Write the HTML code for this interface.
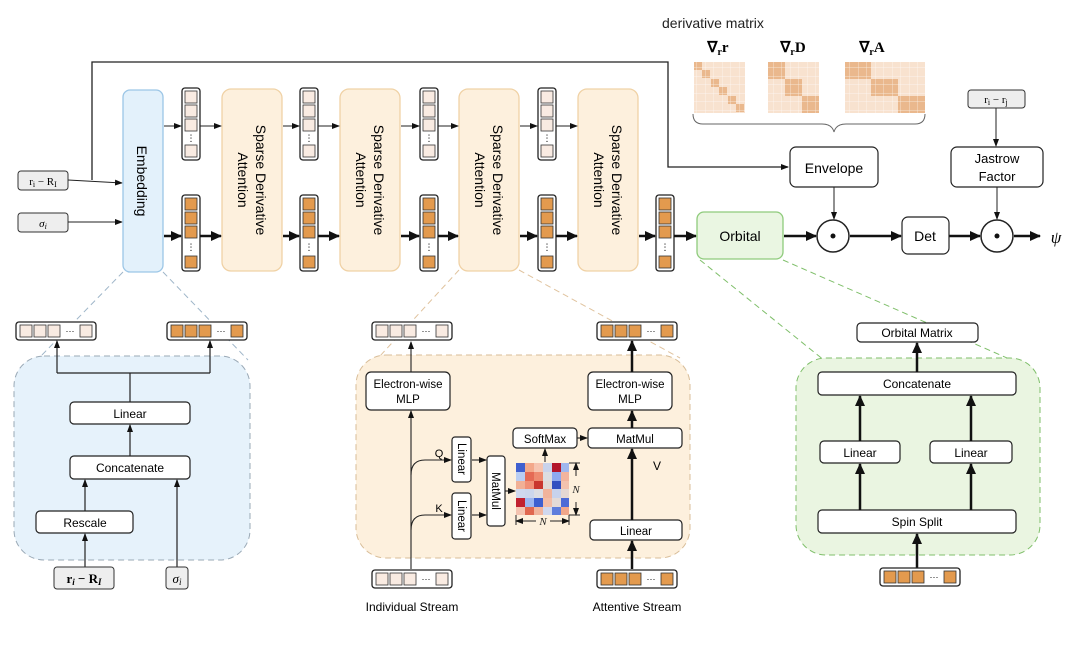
<!DOCTYPE html>
<html><head><meta charset="utf-8"><style>
html,body{margin:0;padding:0;background:#fff;}
svg{display:block;font-family:"Liberation Sans","DejaVu Sans",sans-serif;}
</style></head><body>
<svg width="1080" height="650" viewBox="0 0 1080 650" xmlns="http://www.w3.org/2000/svg">
<defs>
<marker id="a" markerWidth="8" markerHeight="8" refX="7" refY="4" orient="auto" markerUnits="userSpaceOnUse"><path d="M0,1 L8,4 L0,7 z" fill="#111"/></marker>
<marker id="A" markerWidth="12" markerHeight="12" refX="10" refY="6" orient="auto" markerUnits="userSpaceOnUse"><path d="M0,1 L11,6 L0,11 z" fill="#111"/></marker>
<pattern id="g" width="8.5" height="8.5" patternUnits="userSpaceOnUse"><path d="M8.5,0 L8.5,8.5 L0,8.5" fill="none" stroke="#fff" stroke-width="0.7" opacity="0.8"/></pattern>
</defs>

<!-- derivative matrices -->
<text x="662" y="28" font-size="14" fill="#222">derivative matrix</text>
<text x="718" y="52" font-size="15" font-family="Liberation Serif" font-weight="bold" text-anchor="middle">∇<tspan font-size="10" dy="3">r</tspan><tspan dy="-3">r</tspan></text>
<text x="793" y="52" font-size="15" font-family="Liberation Serif" font-weight="bold" text-anchor="middle">∇<tspan font-size="10" dy="3">r</tspan><tspan dy="-3">D</tspan></text>
<text x="872" y="52" font-size="15" font-family="Liberation Serif" font-weight="bold" text-anchor="middle">∇<tspan font-size="10" dy="3">r</tspan><tspan dy="-3">A</tspan></text>
<rect x="694" y="62" width="51" height="51" fill="#f8e2cf"/>
<g fill="#eab88d"><rect x="694" y="62" width="8" height="8"/><rect x="702" y="70" width="8" height="8"/><rect x="711" y="79" width="8" height="8"/><rect x="719" y="87" width="8" height="8"/><rect x="728" y="96" width="8" height="8"/><rect x="736" y="104" width="8" height="8"/></g>
<rect x="694" y="62" width="51" height="51" fill="url(#g)"/>
<rect x="768" y="62" width="51" height="51" fill="#f8e2cf"/>
<g fill="#eab88d"><rect x="768" y="62" width="17" height="17"/><rect x="785" y="79" width="17" height="17"/><rect x="802" y="96" width="17" height="17"/></g>
<rect x="768" y="62" width="51" height="51" fill="url(#g)"/>
<rect x="845" y="62" width="80" height="51" fill="#f8e2cf"/>
<g fill="#eab88d"><rect x="845" y="62" width="26" height="17"/><rect x="871" y="79" width="27" height="17"/><rect x="898" y="96" width="27" height="17"/></g>
<rect x="845" y="62" width="80" height="51" fill="url(#g)"/>
<path d="M693,114 q0,10 10,10 L822,124 q10,0 12,8 q2,-8 12,-8 L915,124 q10,0 10,-10" fill="none" stroke="#666" stroke-width="1"/>

<!-- skip line -->
<path d="M92,180 L92,62 L668,62 L668,167 L788,167" fill="none" stroke="#222" stroke-width="1.3" marker-end="url(#a)"/>

<!-- inputs -->
<rect x="18" y="171" width="50" height="19" rx="3" fill="#eee" stroke="#333"/>
<text x="43" y="185" font-size="11" font-family="Liberation Serif" text-anchor="middle">r<tspan font-size="8" dy="2">i</tspan><tspan dy="-2"> − R</tspan><tspan font-size="8" dy="2">I</tspan></text>
<rect x="18" y="213" width="50" height="19" rx="3" fill="#eee" stroke="#333"/>
<text x="43" y="227" font-size="11" font-family="Liberation Serif" font-style="italic" text-anchor="middle">σ<tspan font-size="8" dy="2">i</tspan></text>
<line x1="68" y1="180" x2="122" y2="183" stroke="#222" marker-end="url(#a)"/>
<line x1="68" y1="222" x2="122" y2="222" stroke="#222" marker-end="url(#a)"/>

<!-- Embedding -->
<rect x="123" y="90" width="40" height="182" rx="7" fill="#e3f1fb" stroke="#9cc6e6" stroke-width="1.3"/>
<text transform="translate(137,181) rotate(90)" font-size="14" text-anchor="middle">Embedding</text>

<!-- SDA boxes -->
<g fill="#fdf0dd" stroke="#f0d2a6" stroke-width="1.3">
<rect x="222" y="89" width="60" height="182" rx="9"/>
<rect x="340" y="89" width="60" height="182" rx="9"/>
<rect x="459" y="89" width="60" height="182" rx="9"/>
<rect x="578" y="89" width="60" height="182" rx="9"/>
</g>
<g font-size="14" text-anchor="middle">
<text transform="translate(252,180) rotate(90)"><tspan x="0" dy="-4">Sparse Derivative</tspan><tspan x="0" dy="18">Attention</tspan></text>
<text transform="translate(370,180) rotate(90)"><tspan x="0" dy="-4">Sparse Derivative</tspan><tspan x="0" dy="18">Attention</tspan></text>
<text transform="translate(489,180) rotate(90)"><tspan x="0" dy="-4">Sparse Derivative</tspan><tspan x="0" dy="18">Attention</tspan></text>
<text transform="translate(608,180) rotate(90)"><tspan x="0" dy="-4">Sparse Derivative</tspan><tspan x="0" dy="18">Attention</tspan></text>
</g>

<!-- vertical vectors -->
<g id="vl">
<rect x="182" y="88" width="18" height="72" rx="3" fill="#fff" stroke="#222" stroke-width="1.3"/>
<g fill="#f9ebe2" stroke="#333" stroke-width="0.8"><rect x="185" y="91" width="12" height="12"/><rect x="185" y="105" width="12" height="12"/><rect x="185" y="119" width="12" height="12"/><rect x="185" y="145" width="12" height="12"/></g>
<text x="191" y="141" font-size="9" text-anchor="middle">⋮</text>
</g>
<use href="#vl" x="118"/><use href="#vl" x="238"/><use href="#vl" x="356"/>
<g id="vo">
<rect x="182" y="195" width="18" height="76" rx="3" fill="#fff" stroke="#222" stroke-width="1.3"/>
<g fill="#e39a4e" stroke="#333" stroke-width="0.8"><rect x="185" y="198" width="12" height="12"/><rect x="185" y="212" width="12" height="12"/><rect x="185" y="226" width="12" height="12"/><rect x="185" y="256" width="12" height="12"/></g>
<text x="191" y="250" font-size="9" text-anchor="middle">⋮</text>
</g>
<use href="#vo" x="118"/><use href="#vo" x="238"/><use href="#vo" x="356"/><use href="#vo" x="474"/>

<!-- top arrows -->
<g stroke="#222" marker-end="url(#a)">
<line x1="164" y1="126" x2="181" y2="126"/><line x1="200" y1="126" x2="221" y2="126"/>
<line x1="283" y1="126" x2="299" y2="126"/><line x1="318" y1="126" x2="339" y2="126"/>
<line x1="401" y1="126" x2="419" y2="126"/><line x1="438" y1="126" x2="458" y2="126"/>
<line x1="520" y1="126" x2="537" y2="126"/><line x1="556" y1="126" x2="577" y2="126"/>
</g>
<!-- bottom thick arrows -->
<g stroke="#111" stroke-width="2.5" marker-end="url(#A)">
<line x1="164" y1="236" x2="181" y2="236"/><line x1="200" y1="236" x2="221" y2="236"/>
<line x1="283" y1="236" x2="299" y2="236"/><line x1="318" y1="236" x2="339" y2="236"/>
<line x1="401" y1="236" x2="419" y2="236"/><line x1="438" y1="236" x2="458" y2="236"/>
<line x1="520" y1="236" x2="537" y2="236"/><line x1="556" y1="236" x2="577" y2="236"/>
<line x1="639" y1="236" x2="655" y2="236"/><line x1="674" y1="236" x2="696" y2="236"/>
<line x1="784" y1="236" x2="816" y2="236"/><line x1="850" y1="236" x2="901" y2="236"/>
<line x1="949" y1="236" x2="980" y2="236"/><line x1="1014" y1="236" x2="1040" y2="236"/>
</g>

<!-- right pipeline -->
<rect x="697" y="212" width="86" height="47" rx="7" fill="#eaf6e2" stroke="#8fcb7c" stroke-width="1.3"/>
<text x="740" y="241" font-size="14" text-anchor="middle">Orbital</text>
<rect x="790" y="147" width="88" height="40" rx="6" fill="#fff" stroke="#222" stroke-width="1.2"/>
<text x="834" y="173" font-size="14" text-anchor="middle">Envelope</text>
<rect x="968" y="90" width="57" height="18" rx="3" fill="#eee" stroke="#333"/>
<text x="996" y="103" font-size="11" font-family="Liberation Serif" text-anchor="middle">r<tspan font-size="8" dy="2">i</tspan><tspan dy="-2"> − r</tspan><tspan font-size="8" dy="2">j</tspan></text>
<line x1="996" y1="108" x2="996" y2="146" stroke="#222" marker-end="url(#a)"/>
<rect x="951" y="147" width="92" height="40" rx="6" fill="#fff" stroke="#222" stroke-width="1.2"/>
<text x="997" y="163" font-size="13" text-anchor="middle">Jastrow</text>
<text x="997" y="181" font-size="13" text-anchor="middle">Factor</text>
<line x1="834" y1="187" x2="834" y2="219" stroke="#222" marker-end="url(#a)"/>
<line x1="997" y1="187" x2="997" y2="219" stroke="#222" marker-end="url(#a)"/>
<circle cx="833" cy="236" r="16" fill="#fff" stroke="#222" stroke-width="1.5"/><circle cx="833" cy="236" r="2.5" fill="#111"/>
<circle cx="997" cy="236" r="16" fill="#fff" stroke="#222" stroke-width="1.5"/><circle cx="997" cy="236" r="2.5" fill="#111"/>
<rect x="902" y="217" width="47" height="37" rx="6" fill="#fff" stroke="#222" stroke-width="1.2"/>
<text x="925" y="241" font-size="14" text-anchor="middle">Det</text>
<text x="1056" y="243" font-size="17" font-family="Liberation Serif" font-style="italic" text-anchor="middle">ψ</text>

<!-- zoom dashed connectors -->
<g fill="none" stroke-dasharray="6,4" stroke-width="1">
<line x1="123" y1="272" x2="40" y2="357" stroke="#9fb6c9"/><line x1="163" y1="272" x2="248" y2="360" stroke="#9fb6c9"/>
<line x1="459" y1="270" x2="380" y2="356" stroke="#e0c39e"/><line x1="519" y1="270" x2="680" y2="358" stroke="#e0c39e"/>
<line x1="700" y1="260" x2="830" y2="365" stroke="#7fbf6a"/><line x1="783" y1="260" x2="1030" y2="368" stroke="#7fbf6a"/>
</g>

<!-- bottom-left embedding detail -->
<rect x="14" y="356" width="236" height="204" rx="30" fill="#e6f2fb" stroke="#9aa9b6" stroke-dasharray="6,4"/>
<g id="hl">
<rect x="16" y="322" width="80" height="18" rx="3" fill="#fff" stroke="#222" stroke-width="1.3"/>
<g fill="#f9ebe2" stroke="#333" stroke-width="0.8"><rect x="20" y="325" width="12" height="12"/><rect x="34" y="325" width="12" height="12"/><rect x="48" y="325" width="12" height="12"/><rect x="80" y="325" width="12" height="12"/></g>
<text x="70" y="334" font-size="9" text-anchor="middle">···</text>
</g>
<g id="ho">
<rect x="167" y="322" width="80" height="18" rx="3" fill="#fff" stroke="#222" stroke-width="1.3"/>
<g fill="#e39a4e" stroke="#333" stroke-width="0.8"><rect x="171" y="325" width="12" height="12"/><rect x="185" y="325" width="12" height="12"/><rect x="199" y="325" width="12" height="12"/><rect x="231" y="325" width="12" height="12"/></g>
<text x="221" y="334" font-size="9" text-anchor="middle">···</text>
</g>
<path d="M130,402 L130,373 M57,373 L210,373" stroke="#222" fill="none" stroke-width="1.2"/>
<line x1="57" y1="373" x2="57" y2="341" stroke="#222" stroke-width="1.2" marker-end="url(#a)"/>
<line x1="210" y1="373" x2="210" y2="341" stroke="#222" stroke-width="1.2" marker-end="url(#a)"/>
<g fill="#fff" stroke="#222" stroke-width="1.2">
<rect x="70" y="402" width="120" height="22" rx="4"/><rect x="70" y="456" width="120" height="23" rx="4"/><rect x="36" y="511" width="97" height="22" rx="4"/>
</g>
<g font-size="12" text-anchor="middle"><text x="130" y="418">Linear</text><text x="130" y="472">Concatenate</text><text x="85" y="527">Rescale</text></g>
<g stroke="#222" stroke-width="1.2" marker-end="url(#a)">
<line x1="130" y1="456" x2="130" y2="425"/><line x1="85" y1="511" x2="85" y2="480"/><line x1="177" y1="567" x2="177" y2="480"/><line x1="85" y1="567" x2="85" y2="534"/>
</g>
<rect x="54" y="567" width="60" height="22" rx="3" fill="#eee" stroke="#333"/>
<text x="84" y="583" font-size="13" font-family="Liberation Serif" font-weight="bold" text-anchor="middle">r<tspan font-size="9" dy="2" font-style="italic">i</tspan><tspan dy="-2"> − R</tspan><tspan font-size="9" dy="2" font-style="italic">I</tspan></text>
<rect x="166" y="567" width="22" height="22" rx="3" fill="#eee" stroke="#333"/>
<text x="177" y="583" font-size="13" font-family="Liberation Serif" font-style="italic" text-anchor="middle">σ<tspan font-size="9" dy="2">i</tspan></text>

<!-- middle attention detail -->
<rect x="356" y="355" width="334" height="203" rx="30" fill="#fdf0dd" stroke="#d8bd98" stroke-dasharray="6,4"/>
<use href="#hl" x="356"/><use href="#ho" x="430"/>
<use href="#hl" x="356" y="248"/><use href="#ho" x="430" y="248"/>
<g fill="#fff" stroke="#222" stroke-width="1.2">
<rect x="366" y="372" width="84" height="38" rx="5"/><rect x="588" y="372" width="84" height="38" rx="5"/>
<rect x="513" y="428" width="64" height="20" rx="4"/><rect x="588" y="428" width="94" height="20" rx="4"/>
<rect x="452" y="437" width="19" height="45" rx="3"/><rect x="452" y="493" width="19" height="46" rx="3"/>
<rect x="487" y="456" width="18" height="70" rx="3"/>
<rect x="590" y="520" width="92" height="20" rx="4"/>
</g>
<g font-size="11.5" text-anchor="middle">
<text x="408" y="388">Electron-wise</text><text x="408" y="403">MLP</text>
<text x="630" y="388">Electron-wise</text><text x="630" y="403">MLP</text>
<text x="545" y="443">SoftMax</text><text x="635" y="443">MatMul</text><text x="636" y="535">Linear</text>
<text transform="translate(458,459) rotate(90)">Linear</text>
<text transform="translate(458,516) rotate(90)">Linear</text>
<text transform="translate(492,491) rotate(90)">MatMul</text>
<text x="439" y="457" font-size="11">Q</text><text x="439" y="512" font-size="11">K</text>
<text x="657" y="470" font-size="12">V</text>
<text x="412" y="611" font-size="12">Individual Stream</text><text x="637" y="611" font-size="12">Attentive Stream</text>
</g>
<g stroke="#222" stroke-width="1.1" fill="none">
<line x1="411" y1="569" x2="411" y2="411" marker-end="url(#a)"/>
<line x1="411" y1="372" x2="411" y2="342" marker-end="url(#a)"/>
<path d="M411,475 Q411,460 425,460 L451,460" marker-end="url(#a)"/>
<path d="M411,530 Q411,515 425,515 L451,515" marker-end="url(#a)"/>
<line x1="472" y1="460" x2="486" y2="460" marker-end="url(#a)"/>
<line x1="472" y1="515" x2="486" y2="515" marker-end="url(#a)"/>
<line x1="505" y1="491" x2="515" y2="491" marker-end="url(#a)"/>
<line x1="545" y1="462" x2="545" y2="449" marker-end="url(#a)"/>
<line x1="577" y1="438" x2="587" y2="438" marker-end="url(#a)"/>
</g>
<g stroke="#111" stroke-width="2.5" marker-end="url(#A)">
<line x1="632" y1="569" x2="632" y2="541"/><line x1="632" y1="520" x2="632" y2="449"/>
<line x1="632" y1="428" x2="632" y2="411"/><line x1="632" y1="372" x2="632" y2="341"/>
</g>
<!-- heatmap -->
<g>
<rect x="516" y="463" width="53" height="52" fill="#e8c8bd"/>
<rect x="516" y="463" width="9" height="9" fill="#3f5fcf"/><rect x="525" y="463" width="9" height="9" fill="#f3a88a"/><rect x="534" y="463" width="9" height="9" fill="#f6c4b0"/><rect x="543" y="463" width="9" height="9" fill="#c9d3ec"/><rect x="552" y="463" width="9" height="9" fill="#b3152a"/><rect x="561" y="463" width="8" height="9" fill="#9fb7ee"/>
<rect x="516" y="472" width="9" height="9" fill="#b9cdf3"/><rect x="525" y="472" width="9" height="9" fill="#e56a55"/><rect x="534" y="472" width="9" height="9" fill="#ee8a70"/><rect x="543" y="472" width="9" height="9" fill="#dcdde2"/><rect x="552" y="472" width="9" height="9" fill="#8ea9ef"/><rect x="561" y="472" width="8" height="9" fill="#f2b49d"/>
<rect x="516" y="481" width="9" height="8" fill="#f1b096"/><rect x="525" y="481" width="9" height="8" fill="#f09077"/><rect x="534" y="481" width="9" height="8" fill="#c9362f"/><rect x="543" y="481" width="9" height="8" fill="#e0d9d6"/><rect x="552" y="481" width="9" height="8" fill="#3250c0"/><rect x="561" y="481" width="8" height="8" fill="#f3c2ae"/>
<rect x="516" y="489" width="9" height="9" fill="#cfd8ee"/><rect x="525" y="489" width="9" height="9" fill="#ccd6ec"/><rect x="534" y="489" width="9" height="9" fill="#dcdde3"/><rect x="543" y="489" width="9" height="9" fill="#f1b39b"/><rect x="552" y="489" width="9" height="9" fill="#c7d2ec"/><rect x="561" y="489" width="8" height="9" fill="#e5d8d3"/>
<rect x="516" y="498" width="9" height="9" fill="#c1202f"/><rect x="525" y="498" width="9" height="9" fill="#9cb5ef"/><rect x="534" y="498" width="9" height="9" fill="#3d5fd0"/><rect x="543" y="498" width="9" height="9" fill="#f2bca6"/><rect x="552" y="498" width="9" height="9" fill="#e3dad7"/><rect x="561" y="498" width="8" height="9" fill="#4c6ad6"/>
<rect x="516" y="507" width="9" height="8" fill="#f4c3b0"/><rect x="525" y="507" width="9" height="8" fill="#e0674f"/><rect x="534" y="507" width="9" height="8" fill="#f1b49c"/><rect x="543" y="507" width="9" height="8" fill="#d0d8ee"/><rect x="552" y="507" width="9" height="8" fill="#5e7ddc"/><rect x="561" y="507" width="8" height="8" fill="#f0a68a"/>
</g>
<g stroke="#222" stroke-width="1">
<line x1="569" y1="463" x2="580" y2="463"/><line x1="569" y1="515" x2="580" y2="515"/>
<line x1="576" y1="476" x2="576" y2="463" marker-end="url(#a)"/><line x1="576" y1="502" x2="576" y2="515" marker-end="url(#a)"/>
<line x1="516" y1="515" x2="516" y2="525"/><line x1="569" y1="515" x2="569" y2="525"/>
<line x1="536" y1="521" x2="516" y2="521" marker-end="url(#a)"/><line x1="550" y1="521" x2="569" y2="521" marker-end="url(#a)"/>
</g>
<text x="576" y="493" font-size="11" font-family="Liberation Serif" font-style="italic" text-anchor="middle" fill="#222">N</text>
<text x="543" y="525" font-size="11" font-family="Liberation Serif" font-style="italic" text-anchor="middle" fill="#222">N</text>

<!-- right orbital detail -->
<rect x="796" y="358" width="244" height="197" rx="30" fill="#eaf5e1" stroke="#7fbf6a" stroke-dasharray="6,4"/>
<g fill="#fff" stroke="#222" stroke-width="1.2">
<rect x="857" y="323" width="121" height="19" rx="4"/>
<rect x="818" y="372" width="198" height="23" rx="4"/>
<rect x="820" y="441" width="80" height="22" rx="4"/><rect x="930" y="441" width="82" height="22" rx="4"/>
<rect x="818" y="510" width="198" height="23" rx="4"/>
</g>
<g font-size="12" text-anchor="middle">
<text x="917" y="337">Orbital Matrix</text><text x="917" y="388">Concatenate</text>
<text x="860" y="457">Linear</text><text x="971" y="457">Linear</text><text x="917" y="526">Spin Split</text>
</g>
<g stroke="#111" stroke-width="2.5" marker-end="url(#A)">
<line x1="917" y1="372" x2="917" y2="343"/>
<line x1="860" y1="441" x2="860" y2="396"/><line x1="971" y1="441" x2="971" y2="396"/>
<line x1="860" y1="510" x2="860" y2="464"/><line x1="971" y1="510" x2="971" y2="464"/>
<line x1="917" y1="568" x2="917" y2="534"/>
</g>
<use href="#ho" x="713" y="246"/>
</svg>
</body></html>
